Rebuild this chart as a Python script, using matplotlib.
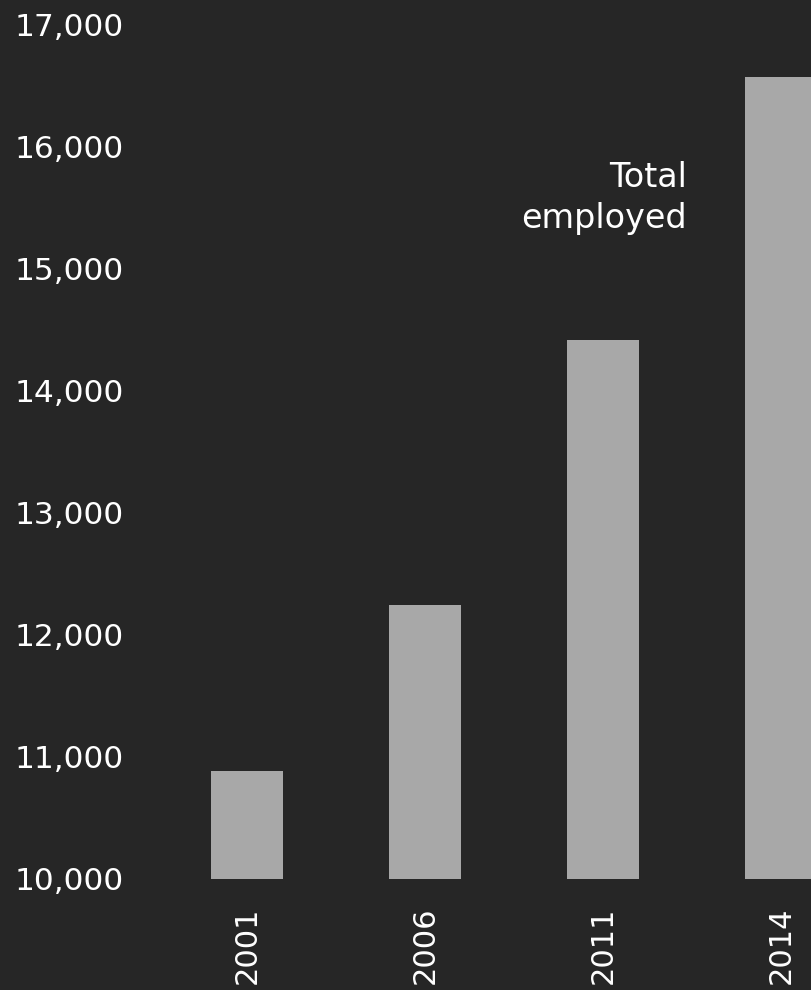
import numpy as np
import matplotlib.pyplot as plt

# Data
years = ['2001', '2006', '2011', '2014']
employed = [10885, 12246, 14418, 16574]
yticks = [10000, 11000, 12000, 13000, 14000, 15000, 16000, 17000]

bg = '#262626'
bar_color = '#a8a8a8'
text_color = '#ffffff'

plt.rcParams['font.family'] = ['DejaVu Sans']

fig = plt.figure(figsize=(8.12, 9.9), dpi=100, facecolor=bg)
ax = fig.add_axes([140 / 812, 111 / 990, 672 / 812, 854 / 990])
ax.set_facecolor(bg)

x = np.arange(len(years))
ax.bar(x, employed, width=0.4, color=bar_color)

ax.set_xlim(-0.601, 3.174)
ax.set_ylim(10000, 17000)

ax.set_yticks(yticks)
ax.set_yticklabels(['{:,}'.format(v) for v in yticks], fontsize=22.5,
                   color=text_color, ha='left')
ax.set_xticks(x)
ax.set_xticklabels(years, rotation=90, fontsize=22, color=text_color)
ax.tick_params(axis='y', length=0, pad=90.5)
ax.tick_params(axis='x', length=0, pad=20)

for s in ax.spines.values():
    s.set_visible(False)

# series label next to the 2011 bar
ax.text(2.472, 15580, 'Total\nemployed', ha='right', va='center',
        multialignment='right', fontsize=24, color=text_color, linespacing=1.3)

fig.savefig('out.png', dpi=100, facecolor=bg)
